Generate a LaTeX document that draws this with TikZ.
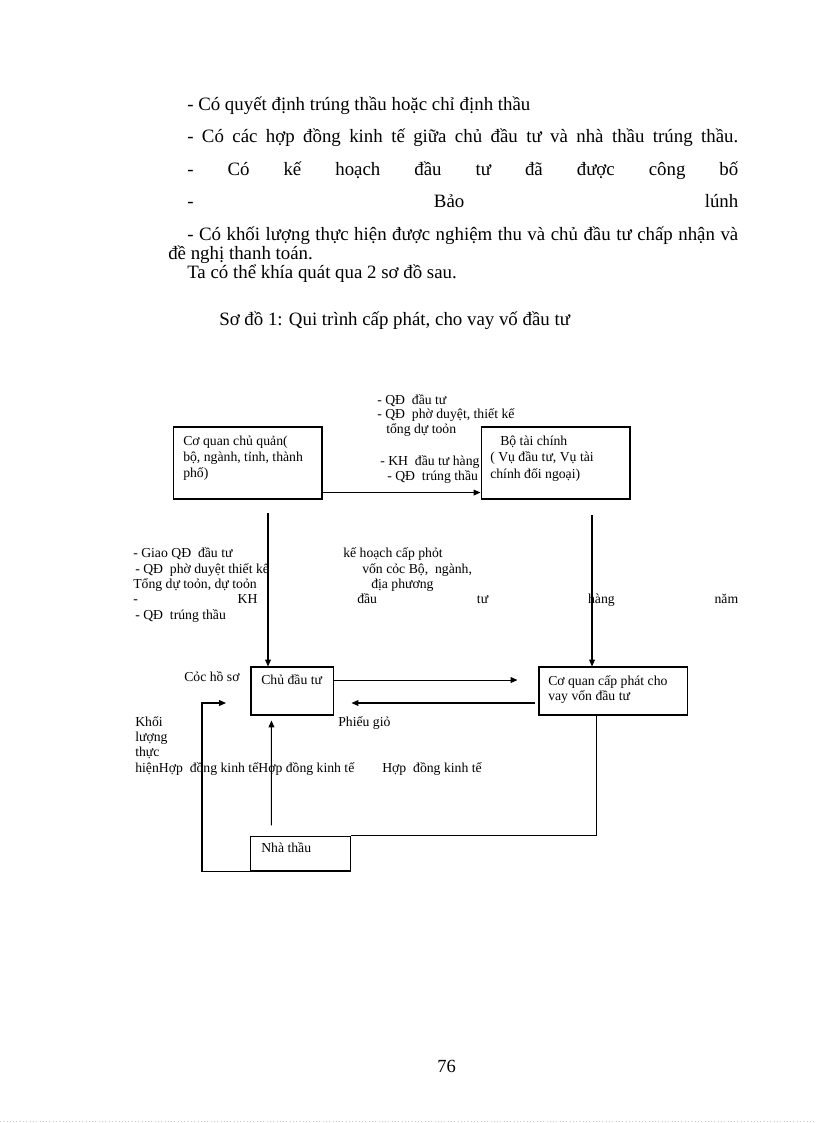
\documentclass[tikz,border=0pt]{standalone}
\usepackage{fontspec}
\setmainfont{Liberation Serif}
\usetikzlibrary{arrows.meta, positioning}
\tikzset{
    bodyline/.style={anchor=base west, inner sep=0pt, font=\fontsize{13.75}{16}\selectfont},
    chartlabel/.style={anchor=base west, inner sep=0pt, font=\fontsize{10}{11.5}\selectfont},
    chartbox/.style={rectangle, draw=black, fill=white, line width=0.75pt, inner sep=0pt},
    flowarr/.style={-{Triangle[length=5pt, width=4.2pt]}, line width=0.75pt},
    plainline/.style={line width=0.75pt},
}

\begin{document}
\begin{tikzpicture}[x=0.729pt, y=-0.729pt]
\useasboundingbox[fill=white] (0,0) rectangle (816,1123);

% Text above the chart
\node[bodyline] (cond1) at (187,111) {- Có quyết định trúng thầu hoặc chỉ định thầu};
\node[bodyline] (cond2) at (187,143) {\makebox[401.7pt][s]{- Có các hợp đồng kinh tế giữa chủ đầu tư và nhà thầu trúng thầu.}};
\node[bodyline] (cond3) at (187,176) {\makebox[401.7pt][s]{- Có kế hoạch đầu tư đã được công bố}};
\node[bodyline] (cond4) at (187,208) {\makebox[401.7pt][s]{- Bảo lúnh}};
\node[bodyline] (cond5) at (187,240) {\makebox[401.7pt][s]{- Có khối lượng thực hiện được nghiệm thu và chủ đầu tư chấp nhận và}};
\node[bodyline] (cond6) at (168,259) {đề nghị thanh toán.};
\node[bodyline] (intro) at (187,278) {Ta có thể khía quát qua 2 sơ đồ sau.};
\node[bodyline] (title) at (219,325) {Sơ đồ 1: Qui trình cấp phát, cho vay vố đầu tư};

% Labels over the top arrow
\node[chartlabel] (qdtop1) at (377,404) {- QĐ\ \ đầu tư};
\node[chartlabel] (qdtop2) at (377,418) {- QĐ\ \ phờ duyệt, thiết kế};
\node[chartlabel] (qdtop3) at (386,433) {tổng dự toỏn};
\node[chartlabel] (khtop) at (380,465) {- KH\ \ đầu tư hàng};
\node[chartlabel] (qdtop4) at (387,480) {- QĐ\ \ trúng thầu};

% Boxes
\node[chartbox, minimum width=108.6pt, minimum height=52.5pt] (cqcq) at (247.5,463) {};
\node[chartbox, minimum width=108.6pt, minimum height=52.5pt] (btc) at (555.5,463) {};
\node[chartbox, minimum width=59.8pt, minimum height=35pt] (cdt) at (292,691) {};
\node[chartbox, minimum width=107.9pt, minimum height=35pt] (cqcp) at (613,691) {};
\node[chartbox, minimum width=72.2pt, minimum height=25.5pt] (nt) at (300.5,853.5) {};

% Box texts
\node[chartlabel] (cqcq1) at (183,445) {Cơ quan chủ quản(};
\node[chartlabel] (cqcq2) at (183,461.5) {bộ, ngành, tỉnh, thành};
\node[chartlabel] (cqcq3) at (183,477) {phố)};
\node[chartlabel] (btc1) at (500,445) {Bộ tài chính};
\node[chartlabel] (btc2) at (490,461.5) {( Vụ đầu tư, Vụ tài};
\node[chartlabel] (btc3) at (490,478) {chính đối ngoại)};
\node[chartlabel] (cdt1) at (261,684) {Chủ đầu tư};
\node[chartlabel] (cqcp1) at (548,685) {Cơ quan cấp phát cho};
\node[chartlabel] (cqcp2) at (548,700) {vay vốn đầu tư};
\node[chartlabel] (nt1) at (261,852) {Nhà thầu};

% Labels between the rows
\node[chartlabel] (giao1) at (133,557) {- Giao QĐ\ \ đầu tư};
\node[chartlabel] (giao2) at (135,573) {- QĐ\ \ phờ duyệt thiết kế};
\node[chartlabel] (giao3) at (133,588) {Tổng dự toỏn, dự toỏn};
\node[chartlabel] (giao4) at (133,603) {\makebox[441pt][s]{- KH đầu tư hàng năm}};
\node[chartlabel] (giao5) at (135,619) {- QĐ\ \ trúng thầu};
\node[chartlabel] (khcp1) at (343,557) {kế hoạch cấp phỏt};
\node[chartlabel] (khcp2) at (362,573) {vốn cỏc Bộ,\ \ ngành,};
\node[chartlabel] (khcp3) at (371,588) {địa phương};

% Labels of the lower part
\node[chartlabel] (hoso) at (184,681) {Cỏc hồ sơ};
\node[chartlabel] (phieu) at (338,726) {Phiếu giỏ};
\node[chartlabel] (kl1) at (135,726) {Khối};
\node[chartlabel] (kl2) at (135,741.5) {lượng};
\node[chartlabel] (kl3) at (135,756) {thực};
\node[chartlabel] (kl4) at (135,772) {hiệnHợp\ \ đồng kinh tếHợp đồng kinh tế};
\node[chartlabel] (hd3) at (382,772) {Hợp\ \ đồng kinh tế};

% Connectors
\coordinate (cqcqout) at (268,513);
\coordinate (btcout) at (592,515);
\coordinate (loopturn) at (202,703);
\draw[flowarr] ([yshift=5.1pt]cqcq.south east) -- ([yshift=5.1pt]btc.south west);
\draw[flowarr] (cqcqout) -- (cqcqout |- cdt.north);
\draw[flowarr] (btcout) -- (btcout |- cqcp.north);
\draw[flowarr] ([yshift=8pt]cdt.east) -- ([xshift=-15.3pt, yshift=8pt]cqcp.west);
\draw[flowarr] ([xshift=-2.2pt, yshift=-8.75pt]cqcp.west) -- ([xshift=13.1pt, yshift=-8.75pt]cdt.east);
\draw[flowarr] ([xshift=15.3pt, yshift=7.3pt]nt.north west) -- ([xshift=15.3pt, yshift=-3.6pt]cdt.south west);
\draw[flowarr] (nt.south west) -| (loopturn) -- ++(24,0);
\draw[plainline] ([xshift=-11.7pt]cqcp.south) |- (nt.north east);

% Page number
\node[bodyline, font=\fontsize{13.5}{16}\selectfont] (pagenum) at (437,1072) {76};
\draw[gray!40, dotted] (0,1121) -- (816,1121);
\end{tikzpicture}
\end{document}
